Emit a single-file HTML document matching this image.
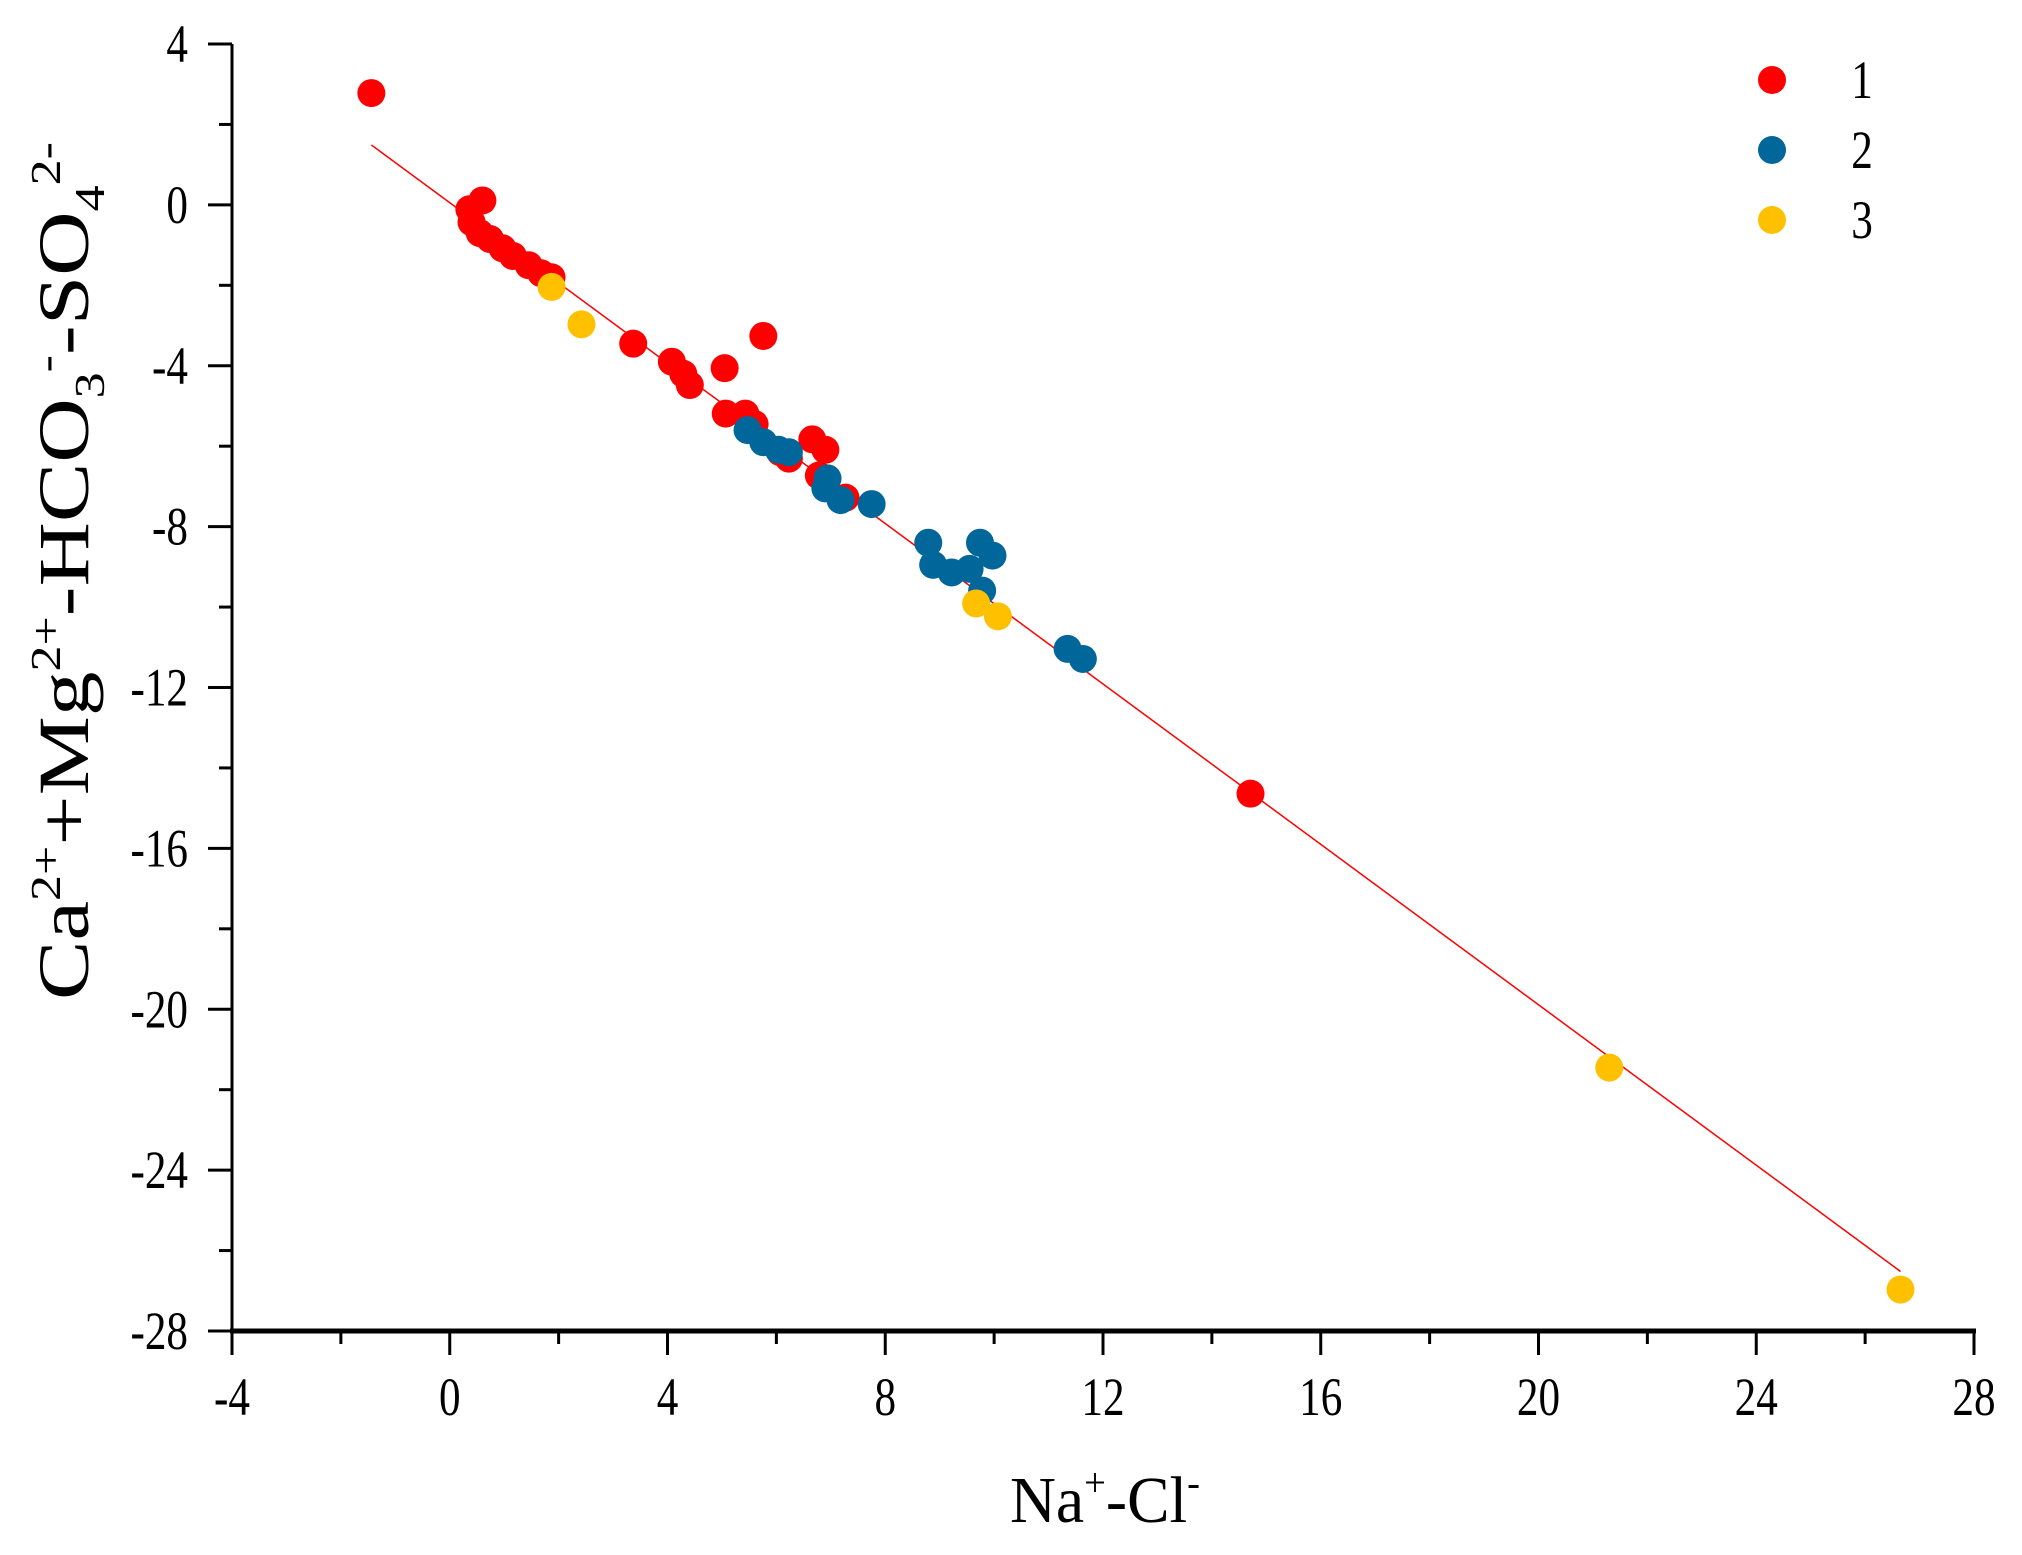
<!DOCTYPE html>
<html><head><meta charset="utf-8"><style>
html,body{margin:0;padding:0;background:#fff;}
svg text{font-family:"Liberation Serif",serif;fill:#000;}
</style></head><body>
<svg id="chart" width="2022" height="1550" xmlns="http://www.w3.org/2000/svg">
<g id="plot"></g>
</svg>
<script>
const xTicks=[-4,0,4,8,12,16,20,24,28];
const yTicks=[4,0,-4,-8,-12,-16,-20,-24,-28];
const s1x=[-1.44,0.36,0.6,0.4,0.55,0.74,0.97,1.16,1.45,1.68,1.87,3.37,4.08,4.29,4.41,5.05,5.76,5.07,5.43,5.6,6.07,6.23,6.66,6.9,6.78,7.27,14.71];
const s1y=[2.78,-0.11,0.11,-0.43,-0.7,-0.85,-1.08,-1.27,-1.5,-1.7,-1.8,-3.45,-3.9,-4.2,-4.48,-4.06,-3.26,-5.19,-5.19,-5.45,-6.15,-6.31,-5.83,-6.09,-6.73,-7.28,-14.64];
const s2x=[5.47,5.76,6.04,6.23,6.94,6.9,7.18,7.75,8.79,8.88,9.22,9.55,9.74,9.97,9.78,11.35,11.63];
const s2y=[-5.6,-5.9,-6.09,-6.15,-6.8,-7.05,-7.34,-7.44,-8.4,-8.95,-9.14,-9.05,-8.4,-8.72,-9.59,-11.04,-11.29];
const s3x=[1.87,2.42,9.67,10.07,21.3,26.65];
const s3y=[-2.04,-2.97,-9.91,-10.23,-21.45,-26.97];
const fitX=[-1.44,26.65];
const fitY=[1.49,-26.52];
const seriesNames=["1","2","3"];

const NS="http://www.w3.org/2000/svg";
const X0=232,X1=1974,Y0=44,Y1=1331;
function sx(v){return X0+(v-(-4))/(32)*(X1-X0);}
function sy(v){return Y0+(4-v)/(32)*(Y1-Y0);}
const g=document.getElementById('plot');
function mk(t,a,p){const e=document.createElementNS(NS,t);for(const k in a)e.setAttribute(k,a[k]);(p||g).appendChild(e);return e;}

let e=mk('line',{x1:X0,y1:Y0,x2:X0,y2:Y1+2,stroke:'#000','stroke-width':3});


e=mk('line',{x1:X0-2,y1:Y1,x2:X1+2,y2:Y1,stroke:'#000','stroke-width':5});


for(let v=-4;v<=28;v+=2){
  const major=(v%4===0);
  e=mk('line',{x1:sx(v),y1:Y1,x2:sx(v),y2:Y1+(major?24:13),stroke:'#000','stroke-width':3});
  
  
}
for(let v=4;v>=-28;v-=2){
  const major=(v%4===0);
  e=mk('line',{x1:X0,y1:sy(v),x2:X0-(major?24:13),y2:sy(v),stroke:'#000','stroke-width':3});
  
  
}
xTicks.forEach(v=>{
  const t=mk('text',{transform:'translate('+sx(v)+','+(Y1+84)+') scale(0.8,1)','font-size':54,'text-anchor':'middle'});
  t.textContent=v;
  
  
});
yTicks.forEach(v=>{
  const t=mk('text',{transform:'translate('+(X0-44)+','+(sy(v)+18)+') scale(0.8,1)','font-size':54,'text-anchor':'end'});
  t.textContent=v;
  
  
});
e=mk('line',{x1:sx(fitX[0]),y1:sy(fitY[0]),x2:sx(fitX[1]),y2:sy(fitY[1]),stroke:'#ff0000','stroke-width':1.5});


const series=[[s1x,s1y,'#ff0000'],[s2x,s2y,'#01669a'],[s3x,s3y,'#ffc000']];
series.forEach((s,i)=>{
  s[0].forEach((x,j)=>{
    const c=mk('circle',{cx:sx(x),cy:sy(s[1][j]),r:14,fill:s[2]});
    
    
  });
  const lc=mk('circle',{cx:1772,cy:80+i*70,r:14,fill:s[2]});
  
  
  const lt=mk('text',{transform:'translate(1862,'+(98+i*70)+') scale(0.8,1)','font-size':54,'text-anchor':'middle'});
  lt.textContent=seriesNames[i];
  
  
});
</script>
<svg style="position:absolute;left:0;top:0" width="2022" height="1550" xmlns="http://www.w3.org/2000/svg">
<text x="1105" y="1522" font-size="66" text-anchor="middle" textLength="190" lengthAdjust="spacingAndGlyphs" font-family="Liberation Serif, serif">Na<tspan dy="-26" font-size="40">+</tspan><tspan dy="26">-Cl</tspan><tspan dy="-26" font-size="40">-</tspan></text>
<text transform="translate(88,571) rotate(-90)" font-size="72" text-anchor="middle" textLength="858" lengthAdjust="spacingAndGlyphs" font-family="Liberation Serif, serif">Ca<tspan dy="-28" font-size="42">2+</tspan><tspan dy="28">+Mg</tspan><tspan dy="-28" font-size="42">2+</tspan><tspan dy="28">-HCO</tspan><tspan dy="16" font-size="42">3</tspan><tspan dy="-44" font-size="42">-</tspan><tspan dy="28">-SO</tspan><tspan dy="16" font-size="42">4</tspan><tspan dy="-44" font-size="42">2-</tspan></text>
</svg>
</body></html>
